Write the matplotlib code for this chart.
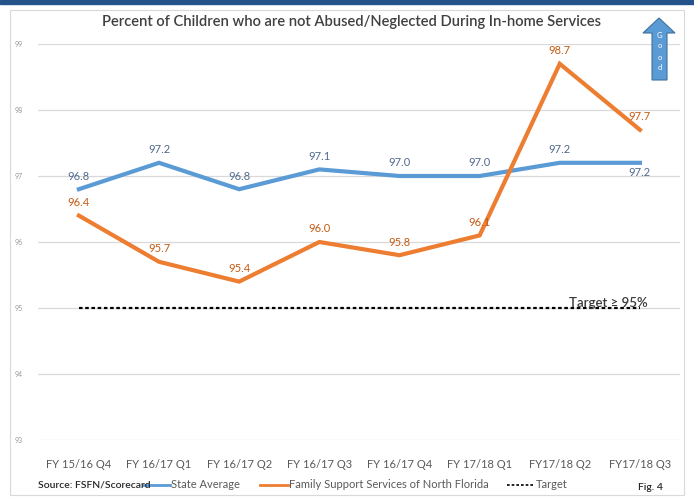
import matplotlib
matplotlib.use("Agg")
import matplotlib.pyplot as plt
from matplotlib.lines import Line2D
from matplotlib.patches import Polygon, Rectangle

plt.rcParams['font.family'] = ['Lato', 'DejaVu Sans']

quarters = ["FY 15/16 Q4", "FY 16/17 Q1", "FY 16/17 Q2", "FY 16/17 Q3",
            "FY 16/17 Q4", "FY 17/18 Q1", "FY17/18 Q2", "FY17/18 Q3"]
state_avg = [96.8, 97.2, 96.8, 97.1, 97.0, 97.0, 97.2, 97.2]
fssnf = [96.4, 95.7, 95.4, 96.0, 95.8, 96.1, 98.7, 97.7]
target = [95.0] * len(quarters)
y_ticks = [93, 94, 95, 96, 97, 98, 99]

BLUE = '#5b9bd5'
ORANGE = '#ed7d31'
W, H = 694, 500


def fx(px):
    return px / W


def fy(py):
    return 1 - py / H


fig = plt.figure(figsize=(6.94, 5.0), dpi=100)

# page band and chart frame
fig.patches.append(Rectangle((0, fy(3.5)), 1, 3.5 / H, transform=fig.transFigure,
                             color='#24528a', zorder=0))
fig.patches.append(Rectangle((fx(10), fy(495)), fx(674), (495 - 10) / H,
                             transform=fig.transFigure, fill=False,
                             edgecolor='#d9d9d9', lw=0.8, zorder=0))

ax = fig.add_axes([fx(38), fy(440), fx(642), (440 - 44) / H])
x = list(range(len(quarters)))

ax.plot(x, target, color='black', lw=1.6, linestyle=(0, (1.6, 1.2)), zorder=2)
ax.plot(x, state_avg, color=BLUE, lw=3, solid_joinstyle='miter', zorder=3)
ax.plot(x, fssnf, color=ORANGE, lw=3, solid_joinstyle='miter', zorder=3)

for i, v in enumerate(state_avg):
    dy = -7 if i == len(state_avg) - 1 else 9.5
    ax.annotate(f"{v:.1f}", (i, v), xytext=(0, dy), textcoords='offset points',
                ha='center', va='center', fontsize=8, color='#506a8c')
for i, v in enumerate(fssnf):
    ax.annotate(f"{v:.1f}", (i, v), xytext=(0, 9.5), textcoords='offset points',
                ha='center', va='center', fontsize=8, color='#c55a11')

ax.text(7.1, 95.02, "Target \u2265 95%", ha='right', va='baseline',
        fontsize=9.5, fontweight='semibold', color='#3a3a3a')

ax.set_xlim(-0.51, 7.5)
ax.set_ylim(93, 99)
ax.set_yticks(y_ticks)
ax.set_xticks(x)
ax.set_xticklabels(quarters)
ax.tick_params(axis='x', length=0, pad=14, labelsize=8, labelcolor='#595959')
ax.tick_params(axis='y', length=0, pad=11, labelsize=5, labelcolor='#999999')
ax.grid(axis='y', color='#d9d9d9', lw=0.9)
for s in ax.spines.values():
    s.set_visible(False)

fig.text(0.507, fy(22), "Percent of Children who are not Abused/Neglected During In-home Services",
         ha='center', va='center', fontsize=10.6, fontweight='semibold', color='#404040')

# "Good" arrow
arrow = [(659, 18), (675, 33), (667, 33), (667, 80), (652, 80), (652, 33), (643, 33)]
fig.patches.append(Polygon([(fx(a), fy(b)) for a, b in arrow], closed=True,
                           transform=fig.transFigure, facecolor=BLUE,
                           edgecolor='#41719c', lw=0.8, zorder=5))
for ch, py in zip("Good", [36, 46, 57, 68]):
    fig.text(fx(659.5), fy(py), ch, ha='center', va='center', fontsize=5.5,
             color='white', zorder=6)

# legend row
ly = fy(485)
fig.text(fx(38), ly, "Source: FSFN/Scorecard", ha='left', va='center',
         fontsize=7.5, fontweight='semibold', color='#262626')
fig.lines.append(Line2D([fx(143), fx(170)], [ly, ly], transform=fig.transFigure,
                        color=BLUE, lw=2))
fig.text(fx(171), ly, "State Average", ha='left', va='center', fontsize=8, color='#595959')
fig.lines.append(Line2D([fx(260), fx(288)], [ly, ly], transform=fig.transFigure,
                        color=ORANGE, lw=2))
fig.text(fx(289), ly, "Family Support Services of North Florida", ha='left', va='center',
         fontsize=8, color='#595959')
fig.lines.append(Line2D([fx(507), fx(535)], [ly, ly], transform=fig.transFigure,
                        color='black', lw=1.2, linestyle=(0, (1.6, 1.2))))
fig.text(fx(536), ly, "Target", ha='left', va='center', fontsize=8, color='#595959')
fig.text(fx(638), fy(487), "Fig. 4", ha='left', va='center', fontsize=7.5,
         fontweight='semibold', color='#262626')

fig.savefig("out.png", dpi=100)
